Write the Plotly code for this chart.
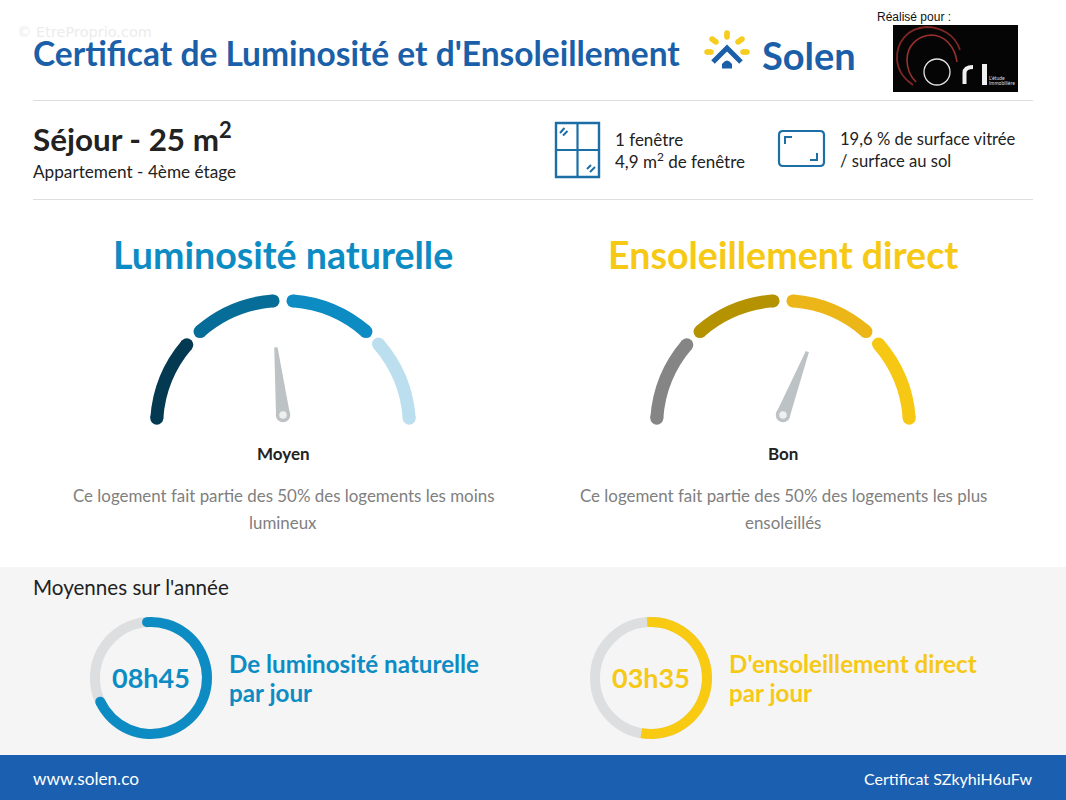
import plotly.graph_objects as go

W, H = 1066, 800
FONT = "Lato"

# ---- data ----
gauge_titles = ["Luminosité naturelle", "Ensoleillement direct"]
gauge_labels = ["Moyen", "Bon"]
gauge_segment_starts = [-86, -41, 4.5, 49]
gauge_segment_ends = [-49.5, -4.5, 41, 86]
gauge_colors_lum = ["#033a52", "#066d98", "#0d8cc4", "#bcdfef"]
gauge_colors_sun = ["#858585", "#b49200", "#ecb619", "#f6c813"]
needle_angles = [-6, 21]
gauge_texts = [["Ce logement fait partie des 50% des logements les moins", "lumineux"],
               ["Ce logement fait partie des 50% des logements les plus", "ensoleillés"]]
donut_labels = ["08h45", "03h35"]
donut_starts = [-4, -4]
donut_spans = [249, 194]
donut_texts = [["De luminosité naturelle", "par jour"], ["D'ensoleillement direct", "par jour"]]

BLUE = "#1b5fa9"
LUM = "#0d8cc4"
SUN = "#f5c916"
ICON = "#1b6fa6"
RULE = "#dedede"
NEEDLE = "#bdc2c5"

# ---- layout positions ----
gauge_cx = [283, 783]
gauge_cy = 427
gauge_ro = 133
gauge_ri = 120
pivot_y = 415
needle_r = 80
donut_cx = [151, 651]
donut_cy = 678
donut_ro = 61
donut_ri = 51


def dom(cx, cy, r):
    return dict(x=[(cx - r) / W, (cx + r) / W], y=[1 - (cy + r) / H, 1 - (cy - r) / H])


fig = go.Figure()
fig.add_trace(go.Scatter(x=[None], y=[None], hoverinfo="skip", showlegend=False))

polars = {}
pid = 0


def new_polar(cx, cy, r):
    global pid
    pid += 1
    name = "polar" if pid == 1 else f"polar{pid}"
    polars[name] = dict(
        bgcolor="rgba(0,0,0,0)",
        radialaxis=dict(visible=False, range=[0, r]),
        angularaxis=dict(visible=False, direction="clockwise", rotation=90),
        domain=dom(cx, cy, r),
    )
    return name


# gauges
for i, colors in enumerate([gauge_colors_lum, gauge_colors_sun]):
    vals, cols = [], []
    for k in range(len(gauge_segment_starts)):
        vals.append(gauge_segment_ends[k] - gauge_segment_starts[k])
        cols.append(colors[k])
        nxt = gauge_segment_starts[k + 1] if k + 1 < len(gauge_segment_starts) else gauge_segment_starts[0] + 360
        vals.append(nxt - gauge_segment_ends[k])
        cols.append("rgba(0,0,0,0)")
    fig.add_trace(go.Pie(values=vals, sort=False, direction="clockwise", rotation=gauge_segment_starts[0],
                         hole=gauge_ri / gauge_ro, domain=dom(gauge_cx[i], gauge_cy, gauge_ro),
                         marker=dict(colors=cols, line=dict(width=0)), textinfo="none",
                         hoverinfo="skip", showlegend=False))
    sp = new_polar(gauge_cx[i], gauge_cy, gauge_ro)
    th, cc = [], []
    for k in range(len(gauge_segment_starts)):
        th += [gauge_segment_starts[k], gauge_segment_ends[k]]
        cc += [colors[k], colors[k]]
    fig.add_trace(go.Scatterpolar(r=[(gauge_ro + gauge_ri) / 2] * len(th), theta=th, mode="markers", subplot=sp,
                                  marker=dict(size=gauge_ro - gauge_ri, color=cc, line=dict(width=0)),
                                  hoverinfo="skip", showlegend=False))
    # needle
    sp = new_polar(gauge_cx[i], pivot_y, needle_r)
    a = needle_angles[i]
    fig.add_trace(go.Scatterpolar(r=[68, 68, 7, 7, 68], theta=[a - 1.4, a + 1.4, a + 90, a - 90, a - 1.4],
                                  mode="lines", fill="toself", fillcolor=NEEDLE, line=dict(width=0),
                                  subplot=sp, hoverinfo="skip", showlegend=False))
    fig.add_trace(go.Scatterpolar(r=[0], theta=[0], mode="markers", subplot=sp,
                                  marker=dict(size=11, color="#eef0f0", line=dict(width=3.5, color=NEEDLE)),
                                  hoverinfo="skip", showlegend=False))

# donuts
for i, col in enumerate([LUM, "#f8ca12"]):
    fig.add_trace(go.Pie(values=[donut_spans[i], 360 - donut_spans[i]], sort=False, direction="clockwise",
                         rotation=donut_starts[i], hole=donut_ri / donut_ro,
                         domain=dom(donut_cx[i], donut_cy, donut_ro),
                         marker=dict(colors=[col, "rgba(0,0,0,0)"], line=dict(width=0)), textinfo="none",
                         hoverinfo="skip", showlegend=False))
sp = new_polar(donut_cx[0], donut_cy, donut_ro)
fig.add_trace(go.Scatterpolar(r=[(donut_ro + donut_ri) / 2] * 2,
                              theta=[donut_starts[0], donut_starts[0] + donut_spans[0]], mode="markers", subplot=sp,
                              marker=dict(size=donut_ro - donut_ri, color=LUM, line=dict(width=0)),
                              hoverinfo="skip", showlegend=False))

# ---- shapes ----
shapes = []


def rect(x0, y0, x1, y1, fill):
    shapes.append(dict(type="rect", xref="x", yref="y", x0=x0, y0=y0, x1=x1, y1=y1, fillcolor=fill,
                       line=dict(width=0), layer="below"))


def line(x0, y0, x1, y1, color, width):
    shapes.append(dict(type="line", xref="x", yref="y", x0=x0, y0=y0, x1=x1, y1=y1,
                       line=dict(color=color, width=width), layer="below"))


def path(d, color=None, width=0, fill=None):
    shapes.append(dict(type="path", xref="x", yref="y", path=d, fillcolor=fill or "rgba(0,0,0,0)",
                       line=dict(color=color or "rgba(0,0,0,0)", width=width), layer="below"))


def circle(cx, cy, r, color, width):
    shapes.append(dict(type="circle", xref="x", yref="y", x0=cx - r, x1=cx + r, y0=cy - r, y1=cy + r,
                       fillcolor="rgba(0,0,0,0)", line=dict(color=color, width=width), layer="below"))


def ray(x0, y0, x1, y1):
    # rounded stroke: a line plus a dot at each end
    line(x0, y0, x1, y1, "#f6cd1e", 5.5)
    for x, y in ((x0, y0), (x1, y1)):
        shapes.append(dict(type="circle", xref="x", yref="y", x0=x - 2.75, x1=x + 2.75, y0=y - 2.75, y1=y + 2.75,
                           fillcolor="#f6cd1e", line=dict(width=0), layer="below"))


rect(0, 567, W, 755, "#f5f5f5")
rect(0, 755, W, H, "#1b60b0")
line(33, 100.5, 1033, 100.5, RULE, 1.2)
line(33, 199.5, 1033, 199.5, RULE, 1.2)

for cx in donut_cx:
    circle(cx, donut_cy, (donut_ro + donut_ri) / 2, "#dcdee0", donut_ro - donut_ri)

# window icon
shapes.append(dict(type="rect", xref="x", yref="y", x0=556, y0=123, x1=599, y1=177, fillcolor="rgba(0,0,0,0)",
                   line=dict(color=ICON, width=2.4), layer="below"))
line(577.5, 123, 577.5, 177, ICON, 2.2)
line(556, 150, 599, 150, ICON, 2.2)
line(560, 133, 564.5, 128, ICON, 2)
line(563, 135.5, 567.5, 131, ICON, 2)
line(587, 169, 591, 165, ICON, 2)
line(590, 172, 595, 167, ICON, 2)

# floor icon
path("M 783,131 L 820,131 Q 824,131 824,135 L 824,162 Q 824,166 820,166 L 783,166 Q 779,166 779,162 "
     "L 779,135 Q 779,131 783,131 Z", color=ICON, width=2.2)
path("M 785,144 L 785,137 L 792,137", color=ICON, width=2)
path("M 817,153 L 817,160 L 810,160", color=ICON, width=2)

# Solen logo
ray(727, 33, 727, 37)
ray(712, 39, 716, 42)
ray(742, 39, 738, 42)
ray(707, 52, 711, 52)
ray(743, 52, 747, 52)
path("M 713,62 L 727,48 L 741,62", color=BLUE, width=5)
path("M 722,68.5 L 722,64 Q 727,57 732,64 L 732,68.5 Z", fill=BLUE)

# client logo
rect(893, 25, 1018, 92, "#050505")
path("M 960,50 C 955,34 940,27 926,27 C 908,28 896,42 897,60 C 898,70 904,79 913,85", color="#7e2624", width=1.8)
path("M 957,62 C 955,46 944,35 931,35 C 917,36 907,46 907,60 C 907,69 911,77 916,82", color="#98302e", width=1.6)
circle(937, 72, 13, "#e4e4e4", 1.3)
path("M 964.5,84 L 964.5,73 Q 964.5,67 973,67", color="#f0f0f0", width=4)
rect(982, 64, 987, 85, "#f0f0f0")

# ---- text ----
ann = []


def text(x, y, s, size, color, anchor="left", weight=400, family=FONT):
    ann.append(dict(x=x, y=y, xref="x", yref="y", text=s, showarrow=False, xanchor=anchor, yanchor="middle",
                    font=dict(family=family, size=size, color=color, weight=weight), borderpad=0, borderwidth=0))


text(17, 32, "© EtreProprio.com", 14.5, "#ececec", family="DejaVu Sans")
text(33, 53, "Certificat de Luminosité et d'Ensoleillement", 33.5, BLUE, weight=700)
text(762, 55, "Solen", 38, BLUE, weight=700)
text(877, 17, "Réalisé pour :", 12, "#111111", family="Liberation Sans")
text(989, 77.5, "L'étude", 5, "#dddddd")
text(989, 82.5, "Immobilière", 5, "#dddddd")
text(33, 137, "Séjour - 25 m<sup>2</sup>", 31.4, "#222222", weight=700)
text(33, 171, "Appartement - 4ème étage", 17.2, "#222222")
text(615, 139, "1 fenêtre", 17, "#222222")
text(615, 160, "4,9 m<sup>2</sup> de fenêtre", 17, "#222222")
text(840, 139, "19,6 % de surface vitrée", 16.6, "#222222")
text(840, 161, "/ surface au sol", 16.6, "#222222")

for i, c in enumerate([LUM, SUN]):
    text(gauge_cx[i], 254, gauge_titles[i], 37.6, c, "center", 700)
    text(gauge_cx[i], 453, gauge_labels[i], 17, "#222222", "center", 700)
    text(gauge_cx[i], 495, gauge_texts[i][0], 16.9, "#808080", "center")
    text(gauge_cx[i], 522, gauge_texts[i][1], 16.9, "#808080", "center")
    text(donut_cx[i], 677, donut_labels[i], 27, c, "center", 700)
    text(donut_cx[i] + 78, 663, donut_texts[i][0], 24.2, c, "left", 700)
    text(donut_cx[i] + 78, 692, donut_texts[i][1], 24.2, c, "left", 700)

text(33, 587, "Moyennes sur l'année", 20.6, "#222222")
text(33, 778, "www.solen.co", 17.2, "#ffffff")
text(1033, 778, "Certificat SZkyhiH6uFw", 16, "#ffffff", "right")

fig.update_layout(
    width=W, height=H, margin=dict(l=0, r=0, t=0, b=0, pad=0), paper_bgcolor="#ffffff", plot_bgcolor="#ffffff",
    xaxis=dict(visible=False, range=[0, W], fixedrange=True, domain=[0, 1]),
    yaxis=dict(visible=False, range=[H, 0], fixedrange=True, domain=[0, 1]),
    shapes=shapes, annotations=ann, showlegend=False,
    **polars,
)

fig.write_html("out.html", config=dict(displayModeBar=False),
               post_script="document.body.style.margin='0';document.documentElement.style.overflow='hidden';")
